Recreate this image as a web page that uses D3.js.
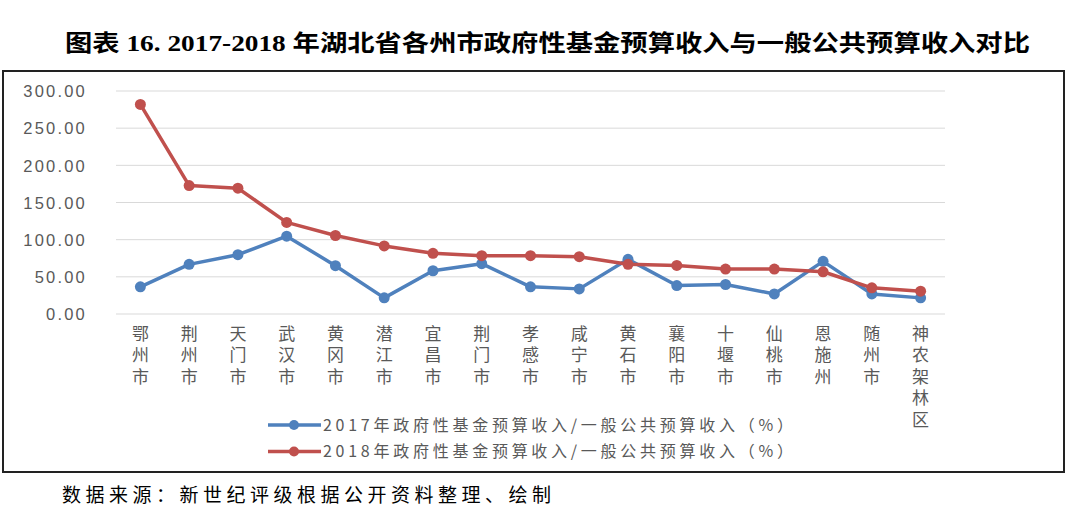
<!DOCTYPE html>
<html><head><meta charset="utf-8">
<script src="https://cdn.jsdelivr.net/npm/d3@7"></script>
<style>body{margin:0;background:#fff}svg{display:block}</style>
</head><body>
<svg id="c" width="1080" height="516"></svg>
<script>
const categories = ["鄂州市","荆州市","天门市","武汉市","黄冈市","潜江市","宜昌市","荆门市","孝感市","咸宁市","黄石市","襄阳市","十堰市","仙桃市","恩施州","随州市","神农架林区"];
const values2017 = [36.5,66.8,79.8,104.7,65.0,21.7,58.2,67.7,36.5,33.8,73.5,38.3,39.7,27.0,70.8,27.0,21.7];
const values2018 = [282.0,172.8,169.2,123.2,105.6,91.6,81.7,78.5,78.5,77.1,66.8,65.4,60.5,60.5,56.8,35.2,30.7];
const yTicks = [0,50,100,150,200,250,300];
const seriesNames = ["2017年政府性基金预算收入/一般公共预算收入（%）","2018年政府性基金预算收入/一般公共预算收入（%）"];
const seriesColors = ["#4F81BD","#C0504D"];
const titleText = "图表 16. 2017-2018 年湖北省各州市政府性基金预算收入与一般公共预算收入对比";
const sourceText = "数据来源：新世纪评级根据公开资料整理、绘制";

const svg = d3.select("#c");
const cjk = "'Noto Sans CJK SC','Noto Sans',sans-serif";

// title
svg.append("text").attr("x",65).attr("y",51)
  .attr("textLength",965).attr("lengthAdjust","spacingAndGlyphs")
  .style("font-family","'Liberation Serif','Noto Sans CJK SC',serif")
  .style("font-weight","bold").style("font-size","23px").attr("fill","#000")
  .text(titleText);

// frame
svg.append("rect").attr("x",3).attr("y",71).attr("width",1061).attr("height",401)
  .attr("fill","none").attr("stroke","#222").attr("stroke-width",2);

const x = d3.scalePoint().domain(categories).range([116,945]).padding(0.5);
const y = d3.scaleLinear().domain([0,300]).range([314,91]);

// grid
svg.append("g").selectAll("line.grid").data(yTicks).join("line").attr("class","grid")
  .attr("x1",116).attr("x2",945).attr("y1",d=>y(d)).attr("y2",d=>y(d))
  .attr("stroke","#d9d9d9").attr("stroke-width",1);

// y axis labels
const yAxis = d3.axisLeft(y).tickValues(yTicks).tickSize(0).tickPadding(0).tickFormat(d3.format(".2f"));
const ya = svg.append("g").attr("transform","translate(87,0)").call(yAxis);
ya.select(".domain").remove();
ya.selectAll("text").attr("fill","#595959")
  .style("font-family","'Liberation Sans',sans-serif").style("font-size","16.5px")
  .style("letter-spacing","2.2px").attr("dy","0.35em");

// x labels vertical (one text element per category)
svg.append("g").selectAll("text.xl").data(categories).join("text").attr("class","xl")
  .attr("x",d=>x(d)).attr("y",325)
  .attr("fill","#595959").style("font-family",cjk).style("font-size","17px")
  .style("writing-mode","vertical-rl").style("text-orientation","upright")
  .style("letter-spacing","4.5px")
  .text(d=>d);

// lines
const line = d3.line().x((d,i)=>x(categories[i])).y(d=>y(d));
[values2017, values2018].forEach((vals,si)=>{
  svg.append("path").datum(vals).attr("d",line).attr("fill","none")
    .attr("stroke",seriesColors[si]).attr("stroke-width",3.5).attr("stroke-linejoin","round");
  svg.append("g").selectAll("circle").data(vals).join("circle")
    .attr("cx",(d,i)=>x(categories[i])).attr("cy",d=>y(d)).attr("r",5.5)
    .attr("fill",seriesColors[si]);
});

// legend
seriesNames.forEach((nm,i)=>{
  const ly = 425 + i*26.5;
  svg.append("line").attr("x1",268).attr("x2",321).attr("y1",ly).attr("y2",ly)
    .attr("stroke",seriesColors[i]).attr("stroke-width",3.5);
  svg.append("circle").attr("cx",294).attr("cy",ly).attr("r",5).attr("fill",seriesColors[i]);
  svg.append("text").attr("x",323).attr("y",ly).attr("dy","0.36em")
    .attr("textLength",470).attr("lengthAdjust","spacing")
    .attr("fill","#595959").style("font-family",cjk).style("font-size","16px").text(nm);
});

// source
svg.append("text").attr("x",62).attr("y",502)
  .attr("textLength",489).attr("lengthAdjust","spacing")
  .attr("fill","#000").style("font-family",cjk).style("font-size","19px").text(sourceText);
</script>
</body></html>
